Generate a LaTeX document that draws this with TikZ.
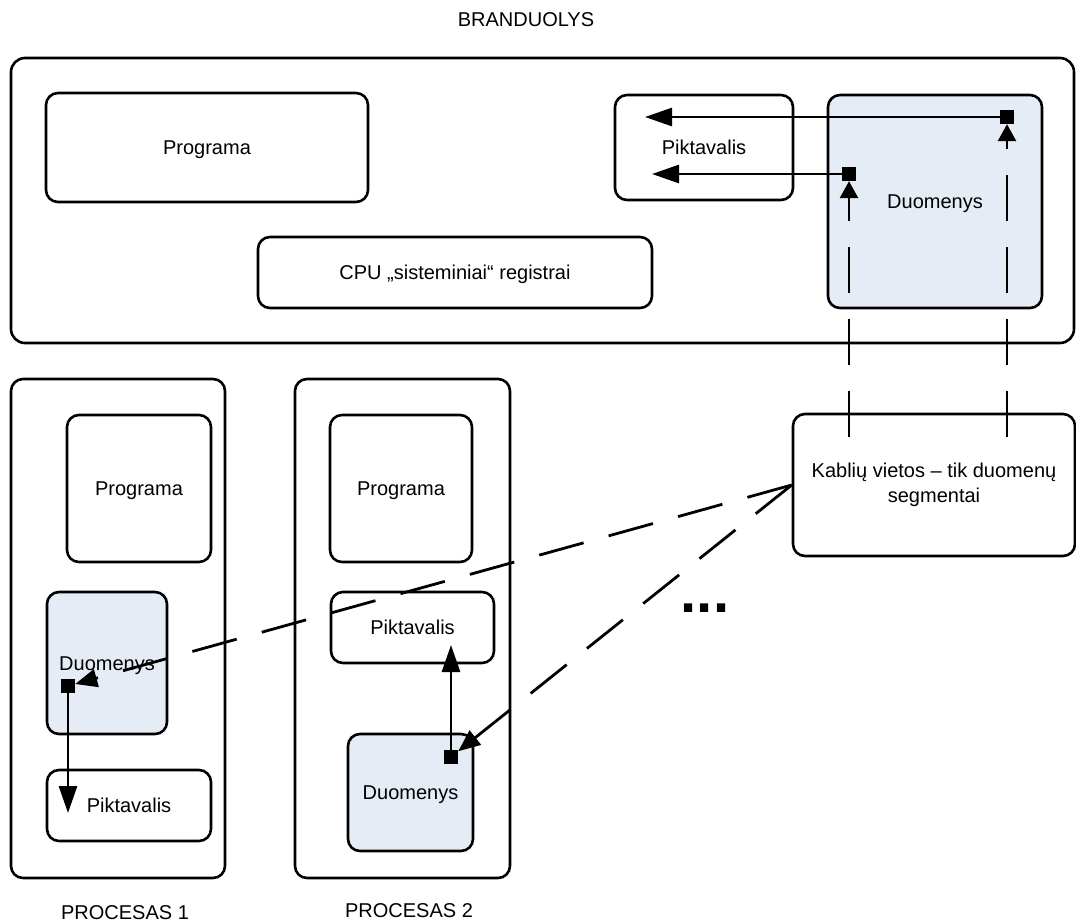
\documentclass[tikz,border=0pt]{standalone}
\usepackage{fontspec}
\setmainfont{Liberation Sans}
\usetikzlibrary{arrows.meta}
\definecolor{segfill}{RGB}{230,236,246}
\begin{document}
\begin{tikzpicture}[x=1pt,y=-1pt,
  font=\fontsize{20}{25}\selectfont,
  box/.style={draw, line width=2.6pt, rounded corners=12pt, inner sep=0pt, align=center},
  oneline/.style={text height=14.3pt, text depth=0pt},
  seg/.style={box, oneline, fill=segfill},
  hook/.style={fill=black, inner sep=0pt, minimum size=14pt},
  arr/.style={line width=2.8pt, -{Triangle[length=27pt,width=18pt]}},
  darr/.style={line width=2.8pt, dash pattern=on 46pt off 26pt, -{Triangle[length=17pt,width=18pt]}},
  sarr/.style={line width=2.8pt, dash pattern=on 46pt off 26pt, -{Triangle[length=22pt,width=18pt]}},
  caption/.style={anchor=base, inner sep=0pt}
]
\useasboundingbox (0,0) rectangle (1076,922);

% kernel
\node[caption] (tkern) at (526,26) {BRANDUOLYS};
\node[box, rounded corners=14pt, minimum width=1063pt, minimum height=285pt] (kern) at (542.5,200.5) {};
\node[box, oneline, minimum width=322pt, minimum height=109pt] (kprog) at (207,147.5) {Programa};
\node[box, oneline, minimum width=178pt, minimum height=105pt] (kpikt) at (704,147.5) {Piktavalis};
\node[seg, minimum width=214pt, minimum height=213pt] (kdata) at (935,201.5) {Duomenys};
\node[box, oneline, minimum width=394pt, minimum height=71pt] (kcpu) at (455,272.5) {CPU „sisteminiai“ registrai};

% processes
\node[box, minimum width=214pt, minimum height=499pt] (p1) at (118,628.5) {};
\node[box, oneline, minimum width=144pt, minimum height=147pt] (p1prog) at (139,488.5) {Programa};
\node[seg, minimum width=120pt, minimum height=142pt] (p1data) at (107,663) {Duomenys};
\node[box, oneline, minimum width=164pt, minimum height=71pt] (p1pikt) at (129,805.5) {Piktavalis};
\node[caption] (tp1) at (125,919) {PROCESAS 1};

\node[box, minimum width=215pt, minimum height=499pt] (p2) at (402.5,628.5) {};
\node[box, oneline, minimum width=142pt, minimum height=147pt] (p2prog) at (401,488.5) {Programa};
\node[box, oneline, minimum width=163pt, minimum height=71pt] (p2pikt) at (412.5,627.5) {Piktavalis};
\node[seg, minimum width=125pt, minimum height=117pt] (p2data) at (410.5,792.5) {Duomenys};
\node[caption] (tp2) at (409,917) {PROCESAS 2};

% hook places
\node[box, minimum width=282pt, minimum height=142pt] (kab) at (934,485) {Kablių vietos – tik duomenų\\segmentai};
\node[caption, font=\fontsize{58}{60}\selectfont\bfseries] (dots) at (705,612) {...};

% hook points
\node[hook] (sk1) at (849,174) {};
\node[hook] (sk2) at (1007,117) {};
\node[hook] (sp1) at (68,686) {};
\node[hook] (sp2) at (451,757) {};

\coordinate (t1) at (645,117);
\coordinate (t2) at (652,174);
\coordinate (t3) at (68,813);
\coordinate (t4) at (451,645);
\coordinate (h1) at (849,437);
\coordinate (h2) at (1007,437);

% jumps to the hooks
\draw[arr] (sk2) -- (t1);
\draw[arr] (sk1) -- (t2);
\draw[arr] (sp1) -- (t3);
\draw[arr] (sp2) -- (t4);

% hooks installed from the hook places
\draw[darr] (h1) -- (sk1);
\draw[darr] (h2) -- (sk2);
\draw[sarr] (kab.west) -- (sp1);
\draw[sarr] (kab.west) -- (sp2);
\end{tikzpicture}
\end{document}
